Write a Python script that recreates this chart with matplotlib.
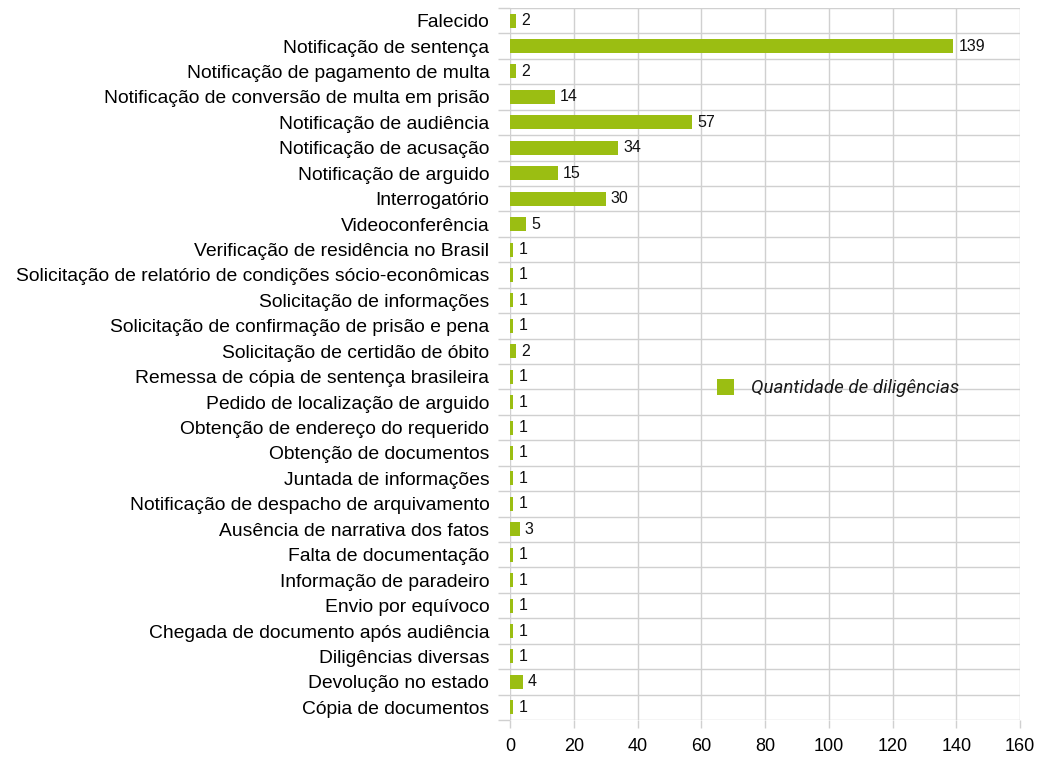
import matplotlib.pyplot as plt
import numpy as np

# Diligências por tipo (de cima para baixo)
categorias = [
    "Falecido",
    "Notificação de sentença",
    "Notificação de pagamento de multa",
    "Notificação de conversão de multa em prisão",
    "Notificação de audiência",
    "Notificação de acusação",
    "Notificação de arguido",
    "Interrogatório",
    "Videoconferência",
    "Verificação de residência no Brasil",
    "Solicitação de relatório de condições sócio-econômicas",
    "Solicitação de informações",
    "Solicitação de confirmação de prisão e pena",
    "Solicitação de certidão de óbito",
    "Remessa de cópia de sentença brasileira",
    "Pedido de localização de arguido",
    "Obtenção de endereço do requerido",
    "Obtenção de documentos",
    "Juntada de informações",
    "Notificação de despacho de arquivamento",
    "Ausência de narrativa dos fatos",
    "Falta de documentação",
    "Informação de paradeiro",
    "Envio por equívoco",
    "Chegada de documento após audiência",
    "Diligências diversas",
    "Devolução no estado",
    "Cópia de documentos",
]
quantidades = [2, 139, 2, 14, 57, 34, 15, 30, 5, 1, 1, 1, 1, 2, 1, 1, 1, 1, 1, 1,
               3, 1, 1, 1, 1, 1, 4, 1]
marcas_x = [0, 20, 40, 60, 80, 100, 120, 140, 160]

COR_BARRA = "#9bbe12"
COR_GRADE = "#d0d0d0"

plt.rcParams["font.family"] = ["Liberation Sans", "DejaVu Sans"]

fig = plt.figure(figsize=(10.41, 7.6), dpi=100)
ax = fig.add_axes([0.49, 0.0526, 0.49, 0.937])

pos = np.arange(len(categorias))
ax.barh(pos, quantidades, height=0.55, color=COR_BARRA,
        label="Quantidade de diligências", zorder=3)

# rótulo com o valor à direita de cada barra
for p, v in zip(pos, quantidades):
    ax.text(v + 1.6, p, str(v), va="center", ha="left", fontsize=11.5,
            color="#111111", zorder=4)

ax.set_ylim(len(categorias) - 0.5, -0.5)
ax.set_xlim(0, 160)
ax.set_xticks(marcas_x)
ax.set_yticks(pos)
ax.set_yticklabels(categorias)
ax.set_yticks(np.arange(-0.5, len(categorias)), minor=True)

ax.tick_params(axis="y", which="major", length=0, pad=15, labelsize=13.9)
ax.tick_params(axis="y", which="minor", length=9, color=COR_GRADE, width=1)
ax.tick_params(axis="x", which="major", length=6, color=COR_GRADE, width=1,
               pad=7, labelsize=13)

ax.grid(axis="x", which="major", color=COR_GRADE, linewidth=1, zorder=0)
ax.grid(axis="y", which="minor", color=COR_GRADE, linewidth=1, zorder=0)

for lado in ax.spines.values():
    lado.set_visible(False)

leg = ax.legend(loc="center", bbox_to_anchor=(0.643, 0.466), frameon=False,
                handlelength=0.9, handleheight=0.9, handletextpad=0.9,
                prop={"family": ["Roboto", "DejaVu Sans"],
                      "style": "italic", "size": 13.5})
for t in leg.get_texts():
    t.set_color("#1a1a1a")

fig.savefig("out.png", dpi=100)
